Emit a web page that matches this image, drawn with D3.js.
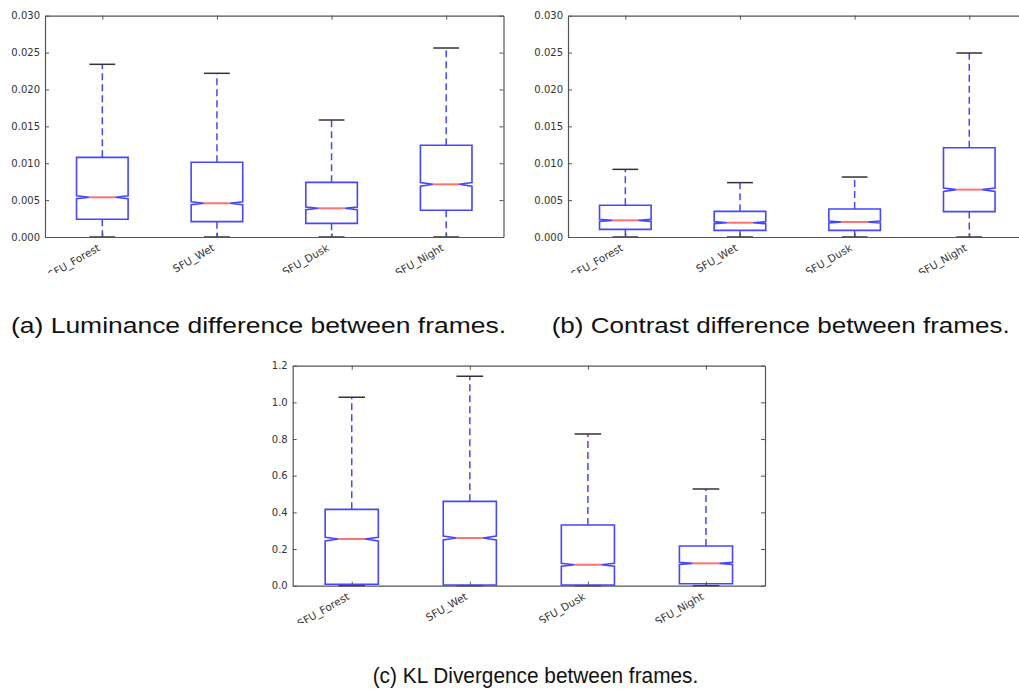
<!DOCTYPE html>
<html>
<head>
<meta charset="utf-8">
<script src="https://cdn.jsdelivr.net/npm/d3@7"></script>
<style>
  html, body { margin: 0; padding: 0; background: #fff; }
  svg { display: block; }
</style>
</head>
<body>
<svg id="chart" width="1019" height="691"></svg>
<script>
// ---------------- DATA ----------------
const categories = ["SFU_Forest", "SFU_Wet", "SFU_Dusk", "SFU_Night"];

// (a) Luminance difference between frames
const lumLow    = [0, 0, 0, 0];
const lumQ1     = [0.0024, 0.00208, 0.00185, 0.00362];
const lumMedian = [0.00538, 0.00457, 0.00389, 0.00714];
const lumQ3     = [0.0108, 0.01013, 0.00741, 0.01243];
const lumHigh   = [0.02341, 0.02219, 0.01586, 0.02562];
const lumNotch  = [0.0002, 0.0002, 0.00018, 0.00025];
const lumTicks  = [0, 0.005, 0.010, 0.015, 0.020, 0.025, 0.030];

// (b) Contrast difference between frames
const conLow    = [0, 0, 0, 0];
const conQ1     = [0.00104, 0.0009, 0.0009, 0.00344];
const conMedian = [0.00226, 0.00194, 0.00203, 0.00642];
const conQ3     = [0.0043, 0.00348, 0.0038, 0.0121];
const conHigh   = [0.00917, 0.00737, 0.00813, 0.02494];
const conNotch  = [0.00014, 0.00014, 0.00014, 0.00023];
const conTicks  = [0, 0.005, 0.010, 0.015, 0.020, 0.025, 0.030];

// (c) KL Divergence between frames
const klLow     = [0, 0, 0, 0];
const klQ1      = [0.0076, 0.004, 0.004, 0.011];
const klMedian  = [0.2546, 0.260, 0.1145, 0.122];
const klQ3      = [0.4165, 0.460, 0.331, 0.2165];
const klHigh    = [1.0276, 1.142, 0.827, 0.527];
const klNotch   = [0.010, 0.011, 0.008, 0.006];
const klTicks   = [0, 0.2, 0.4, 0.6, 0.8, 1.0, 1.2];

const captions = [
  "(a) Luminance difference between frames.",
  "(b) Contrast difference between frames.",
  "(c) KL Divergence between frames."
];

// ---------------- DRAW ----------------
const svg = d3.select("#chart");
svg.append("rect").attr("width", 1019).attr("height", 691).attr("fill", "#fff");

const BLUE = "#4646ff", RED = "#ff7272", CAP = "#333", SPINE = "#555", TXT = "#333";

function panel(id, box, low, q1, med, q3, high, notch, ticks, fmt) {
  const clip = svg.append("clipPath").attr("id", "clip" + id);
  clip.append("rect").attr("x", box.left - 60).attr("y", box.top - 20)
      .attr("width", box.right - box.left + 120).attr("height", box.clipY - box.top + 20);
  const g = svg.append("g").attr("clip-path", `url(#clip${id})`);

  const x = d3.scalePoint().domain(categories).range([box.left, box.right]).padding(0.5);
  const y = d3.scaleLinear().domain([ticks[0], ticks[ticks.length - 1]]).range([box.bottom, box.top]);
  const bw = x.step() * 0.45;

  const data = categories.map((c, i) => ({
    c, low: low[i], q1: q1[i], med: med[i], q3: q3[i], high: high[i], n: notch[i]
  }));

  const items = g.selectAll("g.box").data(data).join("g").attr("class", "box");

  // whiskers
  items.append("line")
    .attr("x1", d => x(d.c)).attr("x2", d => x(d.c))
    .attr("y1", d => y(d.q1)).attr("y2", d => y(d.low))
    .attr("stroke", BLUE).attr("stroke-width", 1.5).attr("stroke-dasharray", "7,4");
  items.append("line")
    .attr("x1", d => x(d.c)).attr("x2", d => x(d.c))
    .attr("y1", d => y(d.q3)).attr("y2", d => y(d.high))
    .attr("stroke", BLUE).attr("stroke-width", 1.5).attr("stroke-dasharray", "7,4");

  // caps
  ["low", "high"].forEach(k => {
    items.append("line")
      .attr("x1", d => x(d.c) - bw / 4).attr("x2", d => x(d.c) + bw / 4)
      .attr("y1", d => y(d[k])).attr("y2", d => y(d[k]))
      .attr("stroke", CAP).attr("stroke-width", 1.5);
  });

  // notched boxes
  items.append("path")
    .attr("d", d => {
      const cx = x(d.c), xl = cx - bw / 2, xr = cx + bw / 2, cl = cx - bw / 4, cr = cx + bw / 4;
      const pts = [
        [xl, y(d.q1)], [xr, y(d.q1)], [xr, y(d.med - d.n)], [cr, y(d.med)], [xr, y(d.med + d.n)],
        [xr, y(d.q3)], [xl, y(d.q3)], [xl, y(d.med + d.n)], [cl, y(d.med)], [xl, y(d.med - d.n)]
      ];
      return d3.line()(pts) + "Z";
    })
    .attr("fill", "none").attr("stroke", BLUE).attr("stroke-width", 1.6);

  // medians
  items.append("line")
    .attr("x1", d => x(d.c) - bw / 4).attr("x2", d => x(d.c) + bw / 4)
    .attr("y1", d => y(d.med)).attr("y2", d => y(d.med))
    .attr("stroke", RED).attr("stroke-width", 2);

  // axes (inward ticks on all four sides)
  const styleAxis = sel => {
    sel.select(".domain").attr("stroke", SPINE).attr("stroke-width", 1.2);
    sel.selectAll(".tick line").attr("stroke", SPINE).attr("stroke-width", 1);
    sel.selectAll("text").attr("fill", TXT).style("font-family", "DejaVu Sans").style("font-size", "10px");
  };
  g.append("g").attr("transform", `translate(${box.left},0)`)
    .call(d3.axisLeft(y).tickValues(ticks).tickFormat(fmt).tickSizeInner(-4).tickSizeOuter(0).tickPadding(5))
    .call(styleAxis);
  g.append("g").attr("transform", `translate(${box.right},0)`)
    .call(d3.axisRight(y).tickValues(ticks).tickFormat("").tickSizeInner(-4).tickSizeOuter(0))
    .call(styleAxis);
  g.append("g").attr("transform", `translate(0,${box.top})`)
    .call(d3.axisTop(x).tickFormat("").tickSizeInner(-4).tickSizeOuter(0))
    .call(styleAxis);
  const bx = g.append("g").attr("transform", `translate(0,${box.bottom})`)
    .call(d3.axisBottom(x).tickSizeInner(-4).tickSizeOuter(0))
    .call(styleAxis);
  bx.selectAll(".tick text")
    .attr("x", 0).attr("y", 0).attr("dy", 0)
    .attr("text-anchor", "end")
    .style("font-size", "10.5px")
    .attr("transform", "translate(-2,13) rotate(-30)");
}

panel("a", {left: 45, right: 503.5, top: 15.7, bottom: 237, clipY: 273},
      lumLow, lumQ1, lumMedian, lumQ3, lumHigh, lumNotch, lumTicks, d3.format(".3f"));
panel("b", {left: 568, right: 1026.6, top: 15.7, bottom: 237, clipY: 273},
      conLow, conQ1, conMedian, conQ3, conHigh, conNotch, conTicks, d3.format(".3f"));
panel("c", {left: 292.7, right: 765, top: 365.7, bottom: 585.7, clipY: 623},
      klLow, klQ1, klMedian, klQ3, klHigh, klNotch, klTicks, d3.format(".1f"));

// captions
const capPos = [
  {x: 11, y: 333, len: 495},
  {x: 551.7, y: 333, len: 458},
  {x: 372.7, y: 683, len: 325.6}
];
svg.selectAll("text.caption").data(captions).join("text")
  .attr("class", "caption")
  .attr("x", (d, i) => capPos[i].x).attr("y", (d, i) => capPos[i].y)
  .attr("textLength", (d, i) => capPos[i].len).attr("lengthAdjust", "spacingAndGlyphs")
  .style("font-family", "Liberation Sans, Arial, sans-serif").style("font-size", "22px")
  .attr("fill", "#111")
  .text(d => d);
</script>
</body>
</html>
